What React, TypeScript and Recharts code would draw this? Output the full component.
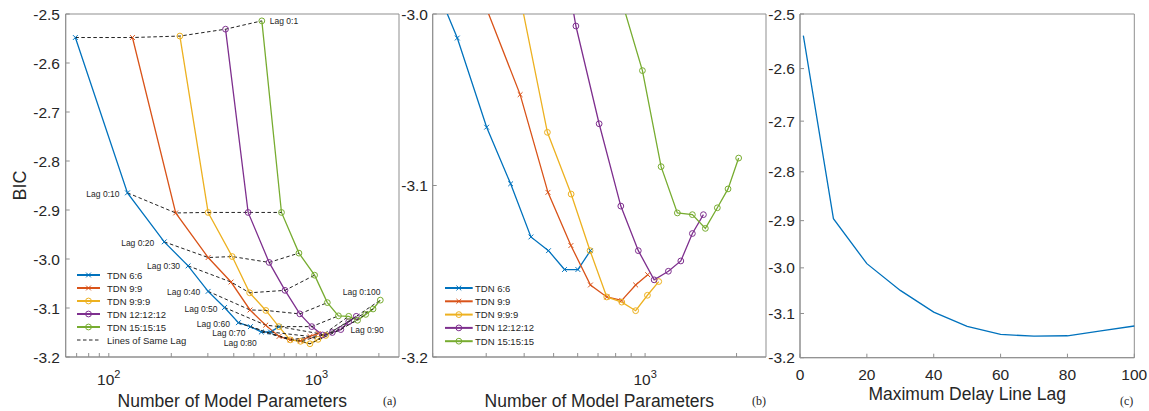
import React from "react";
import { ComposedChart, Line, Scatter, XAxis, YAxis, ReferenceArea } from "recharts";

// lags evaluated for every TDN configuration
const LAGS = [1, 10, 20, 30, 40, 50, 60, 70, 80, 90, 100];

const tdn66Params = [69, 123, 185, 241, 301, 361, 421, 481, 543, 601, 661];
const tdn66Bic = [-2.548, -2.865, -2.965, -3.014, -3.066, -3.099, -3.13, -3.138, -3.149, -3.149, -3.138];

const tdn99Params = [130, 210, 301, 388, 479, 570, 661, 748, 838, 931, 1020];
const tdn99Bic = [-2.548, -2.906, -2.997, -3.047, -3.104, -3.135, -3.158, -3.165, -3.167, -3.158, -3.152];

const tdn999Params = [220, 301, 393, 477, 571, 659, 748, 838, 931, 1018, 1109];
const tdn999Bic = [-2.545, -2.905, -2.995, -3.069, -3.105, -3.138, -3.165, -3.168, -3.173, -3.164, -3.156];

const tdn121212Params = [365, 469, 592, 706, 832, 950, 1071, 1193, 1311, 1431, 1556];
const tdn121212Bic = [-2.531, -2.905, -3.007, -3.064, -3.112, -3.138, -3.155, -3.15, -3.144, -3.128, -3.117];

const tdn151515Params = [546, 679, 824, 980, 1129, 1277, 1431, 1579, 1729, 1875, 2032];
const tdn151515Bic = [-2.514, -2.905, -2.988, -3.033, -3.089, -3.116, -3.117, -3.125, -3.113, -3.102, -3.084];

// panel (c): best BIC per maximum lag
const minBic = [-2.539, -2.896, -2.991, -3.049, -3.097, -3.129, -3.147, -3.151, -3.15, -3.139, -3.128];

const lagLabelText = ["Lag 0:1", "Lag 0:10", "Lag 0:20", "Lag 0:30", "Lag 0:40", "Lag 0:50", "Lag 0:60", "Lag 0:70", "Lag 0:80", "Lag 0:90", "Lag 0:100"];

const paramTicksA = [70, 80, 90, 100, 200, 300, 400, 500, 600, 700, 800, 900, 1000, 2000];
const paramTicksB = [200, 300, 400, 500, 600, 700, 800, 900, 1000, 2000];
const bicTicksA = [-3.2, -3.1, -3.0, -2.9, -2.8, -2.7, -2.6, -2.5];
const bicTicksB = [-3.2, -3.1, -3.0];
const lagTicks = [0, 20, 40, 60, 80, 100];
const bicMagTicks = [2.5, 2.6, 2.7, 2.8, 2.9, 3.0, 3.1, 3.2];

const SERIES = [
  { name: "TDN 6:6", color: "#0072BD", marker: "x", params: tdn66Params, bic: tdn66Bic },
  { name: "TDN 9:9", color: "#D95319", marker: "x", params: tdn99Params, bic: tdn99Bic },
  { name: "TDN 9:9:9", color: "#EDB120", marker: "o", params: tdn999Params, bic: tdn999Bic },
  { name: "TDN 12:12:12", color: "#7E2F8E", marker: "o", params: tdn121212Params, bic: tdn121212Bic },
  { name: "TDN 15:15:15", color: "#77AC30", marker: "o", params: tdn151515Params, bic: tdn151515Bic },
];

const seriesPoints = SERIES.map((s) => s.params.map((n, i) => ({ n, bic: s.bic[i] })));
const sameLagPoints = LAGS.map((_, i) => SERIES.map((s) => ({ n: s.params[i], bic: s.bic[i] })));
const lagCurve = LAGS.map((lag, i) => ({ lag, bic: minBic[i] }));

// annotation placement: [series index, dx, dy, anchor]
const lagLabelPlacement: [number, number, number, string][] = [
  [4, 8, 0, "start"],
  [0, -8, 1.5, "end"],
  [0, -10, 1, "end"],
  [0, -8, 0.5, "end"],
  [0, -8, 1, "end"],
  [0, -7, 1, "end"],
  [0, -8.5, 1, "end"],
  [0, -5, 6, "end"],
  [0, -4.5, 11, "end"],
  [4, -6, 21, "middle"],
  [4, -18.7, -8.5, "middle"],
];
const lagLabels = lagLabelText.map((text, i) => {
  const [si, dx, dy, anchor] = lagLabelPlacement[i];
  return { n: SERIES[si].params[i], bic: SERIES[si].bic[i], text, dx, dy, anchor };
});

const AXIS = "#8f8f8f";
const TEXT = "#262626";
const FONT = "'Liberation Sans', Arial, Helvetica, sans-serif";

const marker = (kind: string, color: string) => (props: any) => {
  const { cx, cy, index } = props;
  if (cx == null || cy == null) return <g key={index} />;
  if (kind === "x") {
    const s = 2.4;
    return (
      <path
        key={index}
        d={`M${cx - s},${cy - s}L${cx + s},${cy + s}M${cx - s},${cy + s}L${cx + s},${cy - s}`}
        stroke={color}
        strokeWidth={1}
        fill="none"
      />
    );
  }
  return <circle key={index} cx={cx} cy={cy} r={2.9} fill="none" stroke={color} strokeWidth={1} />;
};

const PowerTick = (props: any) => {
  const { x, y, payload } = props;
  const exp = Math.log10(payload.value);
  if (Math.abs(exp - Math.round(exp)) > 1e-9) return <g />;
  return (
    <text x={x} y={y + 28} textAnchor="middle" fill={TEXT} fontSize={15.5}>
      <tspan>10</tspan>
      <tspan dy={-7} fontSize={11}>{Math.round(exp)}</tspan>
    </text>
  );
};

const LagLabel = (props: any) => {
  const { cx, cy, payload } = props;
  return (
    <text
      x={cx + payload.dx}
      y={cy + payload.dy}
      textAnchor={payload.anchor}
      dominantBaseline="central"
      fontSize={8.5}
      fill={TEXT}
    >
      {payload.text}
    </text>
  );
};

function Legend({ left, top, lineEnd, textX, rowH, withLag }: { left: number; top: number; lineEnd: number; textX: number; rowH: number; withLag: boolean }) {
  const rows = SERIES.length + (withLag ? 1 : 0);
  return (
    <svg style={{ position: "absolute", left, top }} width={140} height={rows * rowH + 10}>
      {SERIES.map((s, i) => {
        const y = 8 + i * rowH;
        const mx = (4 + lineEnd) / 2;
        return (
          <g key={s.name}>
            <line x1={4} x2={lineEnd} y1={y} y2={y} stroke={s.color} strokeWidth={2} />
            {marker(s.marker, s.color)({ cx: mx, cy: y, index: i })}
            <text x={textX} y={y} dominantBaseline="central" fontSize={9.5} fill={TEXT}>
              {s.name}
            </text>
          </g>
        );
      })}
      {withLag && (
        <g>
          <line x1={4} x2={lineEnd} y1={8 + SERIES.length * rowH} y2={8 + SERIES.length * rowH} stroke="#222" strokeWidth={1} strokeDasharray="3.5 2.5" />
          <text x={textX} y={8 + SERIES.length * rowH} dominantBaseline="central" fontSize={9.5} fill={TEXT}>
            Lines of Same Lag
          </text>
        </g>
      )}
    </svg>
  );
}

function PanelTag({ left, text }: { left: number; text: string }) {
  return (
    <div style={{ position: "absolute", left, top: 394, fontFamily: "'Liberation Serif', 'DejaVu Serif', serif", fontSize: 12, color: TEXT }}>
      {text}
    </div>
  );
}

function ParamPanel({ left, width, yAxisWidth, rightMargin, xDomain, yDomain, xTicks, yTicks, tickGap, annotate }: any) {
  return (
    <div style={{ position: "absolute", left, top: 0 }}>
      <ComposedChart width={width} height={411} margin={{ top: 14, right: rightMargin, bottom: 0, left: 0 }}>
        <XAxis
          type="number"
          dataKey="n"
          scale="log"
          domain={xDomain}
          ticks={xTicks}
          interval={0}
          allowDataOverflow
          height={54}
          stroke={AXIS}
          tickSize={-4}
          tickMargin={4}
          tick={<PowerTick />}
          label={{ value: "Number of Model Parameters", position: "insideBottom", offset: 4, fill: TEXT, fontSize: 17.5 }}
        />
        <YAxis
          type="number"
          dataKey="bic"
          domain={yDomain}
          ticks={yTicks}
          interval={0}
          allowDataOverflow
          width={yAxisWidth}
          stroke={AXIS}
          tickSize={-4}
          tickMargin={tickGap}
          tick={{ fill: TEXT, fontSize: 15.5 }}
          tickFormatter={(v: number) => v.toFixed(1)}
          label={annotate ? { value: "BIC", angle: -90, position: "insideLeft", offset: 20, fill: TEXT, fontSize: 18, style: { textAnchor: "middle" } } : undefined}
        />
        <ReferenceArea x1={xDomain[0]} x2={xDomain[1]} y1={yDomain[0]} y2={yDomain[1]} fill="none" stroke={AXIS} />
        {SERIES.map((s, i) => (
          <Line
            key={s.name}
            name={s.name}
            data={seriesPoints[i]}
            dataKey="bic"
            type="linear"
            stroke={s.color}
            strokeWidth={1.3}
            dot={marker(s.marker, s.color)}
            activeDot={false}
            isAnimationActive={false}
          />
        ))}
        {annotate &&
          sameLagPoints.map((pts, i) => (
            <Line
              key={`lag-${LAGS[i]}`}
              data={pts}
              dataKey="bic"
              type="linear"
              stroke="#222"
              strokeWidth={1}
              strokeDasharray="3.5 2.5"
              dot={false}
              activeDot={false}
              isAnimationActive={false}
            />
          ))}
        {annotate && <Scatter data={lagLabels} dataKey="bic" shape={<LagLabel />} isAnimationActive={false} />}
      </ComposedChart>
    </div>
  );
}

export default function App() {
  return (
    <div style={{ position: "absolute", left: 0, top: 0, width: 1149, height: 411, background: "#fff", fontFamily: FONT, overflow: "hidden" }}>
      <ParamPanel
        left={0}
        width={400}
        yAxisWidth={65.7}
        rightMargin={1}
        xDomain={[62, 2500]}
        yDomain={[-3.2, -2.5]}
        xTicks={paramTicksA}
        yTicks={bicTicksA}
        tickGap={9.7}
        annotate
      />
      <ParamPanel
        left={395}
        width={375}
        yAxisWidth={37.7}
        rightMargin={4}
        xDomain={[200, 2500]}
        yDomain={[-3.2, -3.0]}
        xTicks={paramTicksB}
        yTicks={bicTicksB}
        tickGap={8.7}
        annotate={false}
      />
      <div style={{ position: "absolute", left: 760, top: 0 }}>
        <ComposedChart width={389} height={411} data={lagCurve} margin={{ top: 14, right: 14.7, bottom: 0, left: 0 }}>
          <XAxis
            type="number"
            dataKey="lag"
            domain={[0, 100]}
            ticks={lagTicks}
            interval={0}
            height={53.3}
            stroke={AXIS}
            tickSize={-4}
            tickMargin={14.8}
            tick={{ fill: TEXT, fontSize: 15.5 }}
            label={{ value: "Maximum Delay Line Lag", position: "insideBottom", offset: 11, fill: TEXT, fontSize: 17.5 }}
          />
          <YAxis
            type="number"
            scale="log"
            domain={[2.5, 3.2]}
            reversed
            ticks={bicMagTicks}
            interval={0}
            allowDataOverflow
            width={40}
            stroke={AXIS}
            tickSize={-4}
            tickMargin={9}
            tick={{ fill: TEXT, fontSize: 15.5 }}
            tickFormatter={(v: number) => "-" + v.toFixed(1)}
          />
          <ReferenceArea x1={0} x2={100} y1={2.5} y2={3.2} fill="none" stroke={AXIS} />
          <Line
            dataKey={(d: any) => -d.bic}
            type="linear"
            stroke="#0072BD"
            strokeWidth={1.3}
            dot={false}
            activeDot={false}
            isAnimationActive={false}
          />
        </ComposedChart>
      </div>
      <Legend left={73} top={267} lineEnd={27} textX={34} rowH={13} withLag />
      <Legend left={441} top={280} lineEnd={31.7} textX={34} rowH={13.3} withLag={false} />
      <PanelTag left={383} text="(a)" />
      <PanelTag left={752} text="(b)" />
      <PanelTag left={1120} text="(c)" />
    </div>
  );
}
